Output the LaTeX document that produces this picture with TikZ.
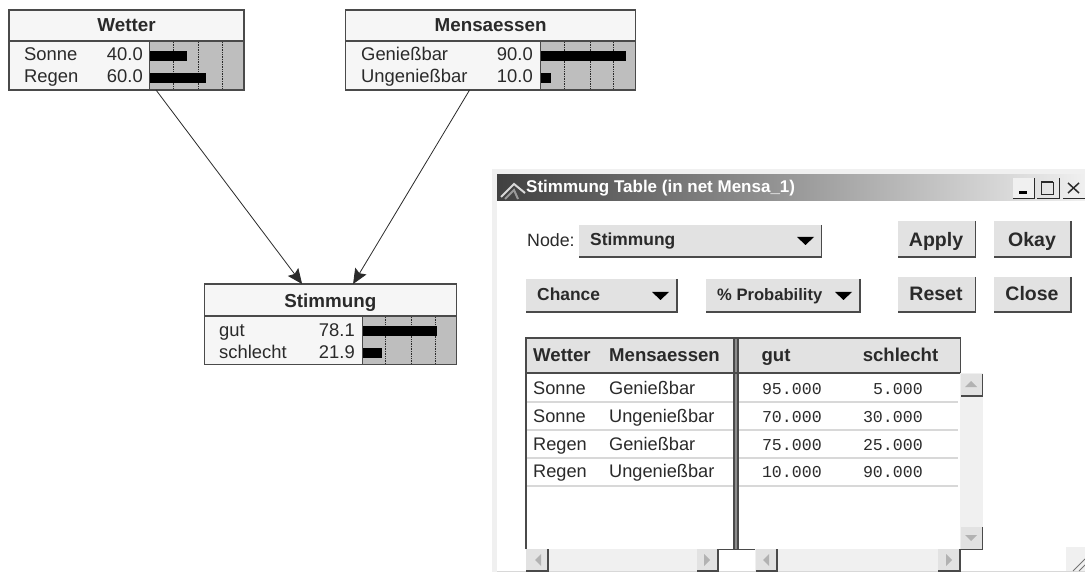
\documentclass[tikz,border=0pt]{standalone}
\usepackage{fontspec}
\setmainfont{Liberation Sans}
\setmonofont{Liberation Mono}
\usetikzlibrary{arrows.meta,calc}
\definecolor{barbg}{HTML}{BEBEBE}
\definecolor{btn}{HTML}{E2E2E2}
\definecolor{pale}{HTML}{F0F0F0}
\definecolor{edgeg}{HTML}{4A4A4A}
\definecolor{ink}{HTML}{2A2A2A}
\definecolor{rowl}{HTML}{D8D8D8}
\definecolor{boxfill}{HTML}{F6F6F6}
\tikzset{
  x=1pt,y=-1pt,
  netbox/.style={draw=edgeg,line width=1.2pt,minimum height=80pt,inner sep=0pt,outer sep=0pt},
  nettitle/.style={font=\fontsize{18.8}{19}\selectfont\bfseries,text=ink,anchor=base,inner sep=0pt},
  netlabel/.style={font=\fontsize{18.4}{19}\selectfont,text=ink,anchor=base west,inner sep=0pt},
  netnum/.style={font=\fontsize{18.4}{19}\selectfont,text=ink,anchor=base east,inner sep=0pt},
  netline/.style={draw=edgeg,line width=1.1pt},
  bar/.style={fill=black},
  tick/.style={draw=ink,line width=0.7pt,densely dotted},
  link/.style={draw=ink,line width=0.8pt,-{Stealth[length=15pt,width=13pt,inset=2.5pt]}},
  uitext/.style={font=\fontsize{18.2}{19}\selectfont,text=ink,anchor=base west,inner sep=0pt},
  uibold/.style={font=\fontsize{17.4}{18}\selectfont\bfseries,text=ink,anchor=base west,inner sep=0pt},
  headbold/.style={font=\fontsize{18.6}{19}\selectfont\bfseries,text=ink,anchor=base west,inner sep=0pt},
  btntext/.style={font=\fontsize{19.5}{20}\selectfont\bfseries,text=ink,inner sep=0pt,anchor=base},
  monotext/.style={font=\fontsize{16.6}{17}\selectfont\ttfamily,text=ink,anchor=base east,inner sep=0pt},
  rowline/.style={draw=rowl,line width=1.2pt},
  tableline/.style={draw=edgeg,line width=1.1pt},
}
% raised button: x0,y0,x1,y1
\newcommand{\raisedbtn}[4]{%
  \fill[btn] (#1,#2) rectangle (#3,#4);
  \draw[edgeg,line width=1.2pt] (#3,#2) -- (#3,#4) -- (#1,#4);
}
\newcommand{\downtri}[3]{\fill[black] (#1,#3) -- (#2,#3) -- ({(#1+#2)/2},{#3+8}) -- cycle;}
\begin{document}
\begin{tikzpicture}
\useasboundingbox (0,0) rectangle (1085,572);
\fill[white] (0,0) rectangle (1085,572);

% --- Wetter
\fill[boxfill] (9,10) rectangle (244,90);
\fill[barbg] (149.5,41) rectangle (244,90);
\node[netbox,minimum width=235pt] (wetter) at (126.5,50) {};
\foreach \gx in {173,198,222} \draw[tick] (\gx,42) -- (\gx,89.5);
\fill[bar] (150,51) rectangle (187,61);
\fill[bar] (150,73.5) rectangle (206,83);
\draw[netline] (9,41) -- (244,41);
\draw[netline] (149.5,41) -- (149.5,90);
\node[nettitle] (wettert) at (126.5,32) {Wetter};
\node[netlabel] (w1) at (24,60.5) {Sonne};
\node[netlabel] (w2) at (24,83) {Regen};
\node[netnum] (w1n) at (143,60.5) {40.0};
\node[netnum] (w2n) at (143,83) {60.0};

% --- Mensaessen
\fill[boxfill] (345.6,10) rectangle (635.6,90);
\fill[barbg] (540.7,41) rectangle (635.7,90);
\node[netbox,minimum width=290pt] (mensa) at (490.6,50) {};
\foreach \gx in {564,590,613} \draw[tick] (\gx,42) -- (\gx,89.5);
\fill[bar] (541,51) rectangle (625.7,61);
\fill[bar] (541,73.5) rectangle (550.7,83);
\draw[netline] (345.6,41) -- (635.6,41);
\draw[netline] (540.7,41) -- (540.7,90);
\node[nettitle] (mensat) at (490.6,32) {Mensaessen};
\node[netlabel] (m1) at (361,60.5) {Genießbar};
\node[netlabel] (m2) at (361,83) {Ungenießbar};
\node[netnum] (m1n) at (533,60.5) {90.0};
\node[netnum] (m2n) at (533,83) {10.0};

% --- Stimmung
\fill[boxfill] (204,284) rectangle (456.7,364.6);
\fill[barbg] (362.3,316) rectangle (456.7,364.5);
\node[netbox,minimum width=252.6pt,minimum height=80.6pt] (stimm) at (330.4,324.3) {};
\foreach \gx in {385.7,411,435} \draw[tick] (\gx,317) -- (\gx,364);
\fill[bar] (363,326) rectangle (436.7,336);
\fill[bar] (363,348) rectangle (382,358);
\draw[netline] (204,316) -- (456.7,316);
\draw[netline] (362.3,316) -- (362.3,364.6);
\node[nettitle] (stimmt) at (330.4,308) {Stimmung};
\node[netlabel] (s1) at (219,337) {gut};
\node[netlabel] (s2) at (219,358) {schlecht};
\node[netnum] (s1n) at (355,337) {78.1};
\node[netnum] (s2n) at (355,358) {21.9};

% --- connectors
\draw[link] ($(wetter.south west)+(147,0)$) -- ($(stimm.north west)+(98,0)$);
\draw[link] ($(mensa.south west)+(124,0)$) -- ($(stimm.north west)+(149,0)$);

% --- window frame
\fill[pale] (492,169) rectangle (1085,175);
\fill[pale] (492,169) rectangle (497,572);
\fill[rowl] (497,570.6) rectangle (1085,572);
\shade[left color=black!75,right color=pale] (497,175) rectangle (1085,201);
% title icon
\draw[line width=2pt,white!85!black] (501,197) -- (514,184) -- (525,193);
\draw[line width=2pt,white!60!black] (505,199) -- (514,190) -- (518,199);
\node[font=\fontsize{17}{18}\selectfont\bfseries,text=white,anchor=base west,inner sep=0pt] (wtitle) at (526,193) {Stimmung Table (in net Mensa\_1)};
% window buttons
\fill[pale] (1013,178) rectangle (1035,198);
\draw[ink,line width=0.9pt] (1013,198.5) -- (1034,198.5) -- (1034,178);
\fill[black] (1019,191.5) rectangle (1027,194);
\draw[ink,line width=0.9pt] (1041,182) rectangle (1053,194);
\draw[ink,line width=1.6pt] (1041,182) -- (1053,182);
\draw[ink,line width=0.9pt] (1037,198.5) -- (1059,198.5) -- (1059,178);
\draw[ink,line width=1.5pt] (1068,183) -- (1079,193) (1079,183) -- (1068,193);
\draw[ink,line width=0.9pt] (1063,198.5) -- (1085,198.5);

% --- controls
\node[uitext,font=\fontsize{17.8}{18}\selectfont] (nodelab) at (527,247) {Node:};
\raisedbtn{578.5}{225}{821.5}{257}
\node[uibold] (nodeval) at (590,246) {Stimmung};
\downtri{797}{814}{237}
\raisedbtn{526}{279}{677}{312}
\node[uibold] (chance) at (537,301) {Chance};
\downtri{652}{669}{292}
\raisedbtn{706}{279}{860}{312}
\node[uibold,font=\fontsize{16.6}{17}\selectfont\bfseries] (prob) at (717,301) {\% Probability};
\downtri{835}{852}{292}
\raisedbtn{898}{221}{975.5}{257}
\node[btntext] (apply) at (936,247) {Apply};
\raisedbtn{993.5}{221}{1071}{257}
\node[btntext] (okay) at (1032,247) {Okay};
\raisedbtn{898}{277}{975.5}{312}
\node[btntext] (reset) at (936,301) {Reset};
\raisedbtn{993.5}{277}{1071}{312}
\node[btntext] (close) at (1032,301) {Close};

% --- table
\fill[btn] (526,338) rectangle (960.5,373);
\foreach \ry in {402,430,458,486} \draw[rowline] (527,\ry) -- (958,\ry);
\fill[black!45] (734,338) rectangle (738,549);
\draw[tableline] (526,549) -- (526,338) -- (960.5,338) -- (960.5,373);
\draw[tableline] (526,373) -- (960.5,373);
\draw[tableline] (734,338) -- (734,549);
\draw[tableline] (738,338) -- (738,549);
\node[headbold] (h1) at (533,361) {Wetter};
\node[headbold] (h2) at (609,361) {Mensaessen};
\node[headbold,anchor=base] (h3) at (776,361) {gut};
\node[headbold,anchor=base] (h4) at (900.5,361) {schlecht};
\node[uitext] (r1a) at (533,394) {Sonne};
\node[uitext] (r1b) at (609,394) {Genießbar};
\node[monotext] (r1c) at (822,394) {95.000};
\node[monotext] (r1d) at (923,394) {5.000};
\node[uitext] (r2a) at (533,422) {Sonne};
\node[uitext] (r2b) at (609,422) {Ungenießbar};
\node[monotext] (r2c) at (822,422) {70.000};
\node[monotext] (r2d) at (923,422) {30.000};
\node[uitext] (r3a) at (533,450) {Regen};
\node[uitext] (r3b) at (609,450) {Genießbar};
\node[monotext] (r3c) at (822,450) {75.000};
\node[monotext] (r3d) at (923,450) {25.000};
\node[uitext] (r4a) at (533,477) {Regen};
\node[uitext] (r4b) at (609,477) {Ungenießbar};
\node[monotext] (r4c) at (822,477) {10.000};
\node[monotext] (r4d) at (923,477) {90.000};

% --- vertical scrollbar
\fill[pale] (960,373) rectangle (983,550);
\raisedbtn{960.5}{374}{982.5}{396}
\fill[black!30] (965,387) -- (977,387) -- (971,381) -- cycle;
\raisedbtn{960.5}{527}{982.5}{549.5}
\fill[black!30] (965,535) -- (977,535) -- (971,541) -- cycle;

% --- horizontal scrollbars
\fill[pale] (526,549) rectangle (718,571);
\fill[pale] (755,549) rectangle (960,571);
\raisedbtn{526}{549}{548}{571}
\fill[black!30] (541,554) -- (541,566) -- (535,560) -- cycle;
\raisedbtn{697}{549}{718}{571}
\fill[black!30] (704,554) -- (704,566) -- (710,560) -- cycle;
\raisedbtn{755.5}{549}{777}{571}
\fill[black!30] (769,554) -- (769,566) -- (763,560) -- cycle;
\raisedbtn{938}{549}{960}{571}
\fill[black!30] (946,554) -- (946,566) -- (952,560) -- cycle;
\draw[edgeg,line width=1pt] (718,571) -- (718,549.5) -- (755,549.5);

% --- resize grip
\fill[pale] (1066,547) rectangle (1085,571);
\draw[black!55,line width=0.8pt] (1073,571) -- (1085,559) (1079,571) -- (1085,565);
\end{tikzpicture}
\end{document}
